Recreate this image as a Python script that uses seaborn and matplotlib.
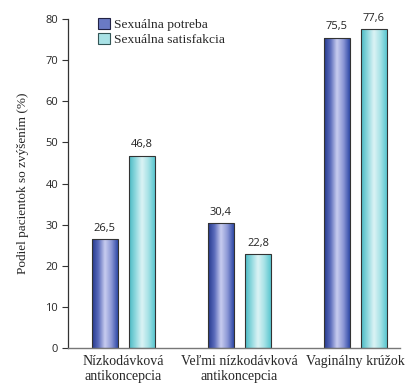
import numpy as np
import pandas as pd
import matplotlib
matplotlib.use("Agg")
import matplotlib.pyplot as plt
from matplotlib.colors import LinearSegmentedColormap
from matplotlib.patches import Patch
import seaborn as sns

categories = ["Nízkodávková\nantikoncepcia", "Veľmi nízkodávková\nantikoncepcia", "Vaginálny krúžok"]
series = ["Sexuálna potreba", "Sexuálna satisfakcia"]
potreba = [26.5, 30.4, 75.5]
satisfakcia = [46.8, 22.8, 77.6]
yticks = [0, 10, 20, 30, 40, 50, 60, 70, 80]

df = pd.DataFrame({
    "kategoria": categories * 2,
    "skupina": [series[0]] * 3 + [series[1]] * 3,
    "hodnota": potreba + satisfakcia,
})

sns.set_style("white")
serif = "Liberation Serif"
sans = "Open Sans"

fig = plt.figure(figsize=(4.14, 3.9), dpi=100)
ax = fig.add_axes([68 / 414, 1 - 348 / 390, 332 / 414, 329 / 390])

sns.barplot(data=df, x="kategoria", y="hodnota", hue="skupina",
            order=categories, hue_order=series, width=0.64, gap=0.3,
            palette=["#3a4fa8", "#7fd3da"], edgecolor="#333333", linewidth=0.8,
            errorbar=None, legend=False, ax=ax)

cmaps = {
    series[0]: LinearSegmentedColormap.from_list(
        "blue", ["#23378c", "#5b6cbc", "#c9cdf0", "#8c98d6", "#2e48a6"]),
    series[1]: LinearSegmentedColormap.from_list(
        "cyan", ["#47b9c3", "#8fd8de", "#dcf3f5", "#a6e2e6", "#58c6cf"]),
}
grad = np.linspace(0, 1, 256).reshape(1, -1)

bars = ax.patches[:6]
for i, bar in enumerate(bars):
    name = series[0] if i < 3 else series[1]
    x, w, h = bar.get_x(), bar.get_width(), bar.get_height()
    img = ax.imshow(grad, cmap=cmaps[name], extent=[x, x + w, 0, h],
                    aspect="auto", origin="lower", zorder=bar.get_zorder() - 0.1,
                    interpolation="bicubic")
    img.set_clip_path(bar)
    bar.set_facecolor("none")
    ax.text(x + w / 2, h + 1.3, f"{h:.1f}".replace(".", ","), ha="center",
            va="bottom", fontsize=8, family=sans, color="#222222")

ax.set_xlim(-0.478, 2.384)
ax.set_ylim(0, 80)
ax.set_yticks(yticks)
ax.set_yticklabels([str(t) for t in yticks], fontsize=8, family=sans)
ax.tick_params(axis="y", length=4, width=0.8, color="#333333", pad=3, left=True)
ax.tick_params(axis="x", length=0, pad=5)
for lbl in ax.get_xticklabels():
    lbl.set_family(serif)
    lbl.set_fontsize(10)
    lbl.set_linespacing(1.25)
    lbl.set_va("top")

ax.set_xlabel("")
ax.set_ylabel("Podiel pacientok so zvýšením (%)", family=serif, fontsize=9.5, labelpad=12)
for s in ["top", "right"]:
    ax.spines[s].set_visible(False)
ax.spines["left"].set_color("#333333")
ax.spines["left"].set_linewidth(0.9)
ax.spines["bottom"].set_color("#777777")
ax.spines["bottom"].set_linewidth(1.0)

handles = [Patch(facecolor="#6a7ac4", edgecolor="#222244", linewidth=0.8),
           Patch(facecolor="#a9e2e6", edgecolor="#335555", linewidth=0.8)]
ax.legend(handles, series, loc="upper left", bbox_to_anchor=(0.075, 1.02),
          frameon=False, prop={"family": serif, "size": 9.7},
          handlelength=0.85, handleheight=0.85, handletextpad=0.35,
          labelspacing=0.15, borderaxespad=0)

fig.savefig("out.png", dpi=100)
